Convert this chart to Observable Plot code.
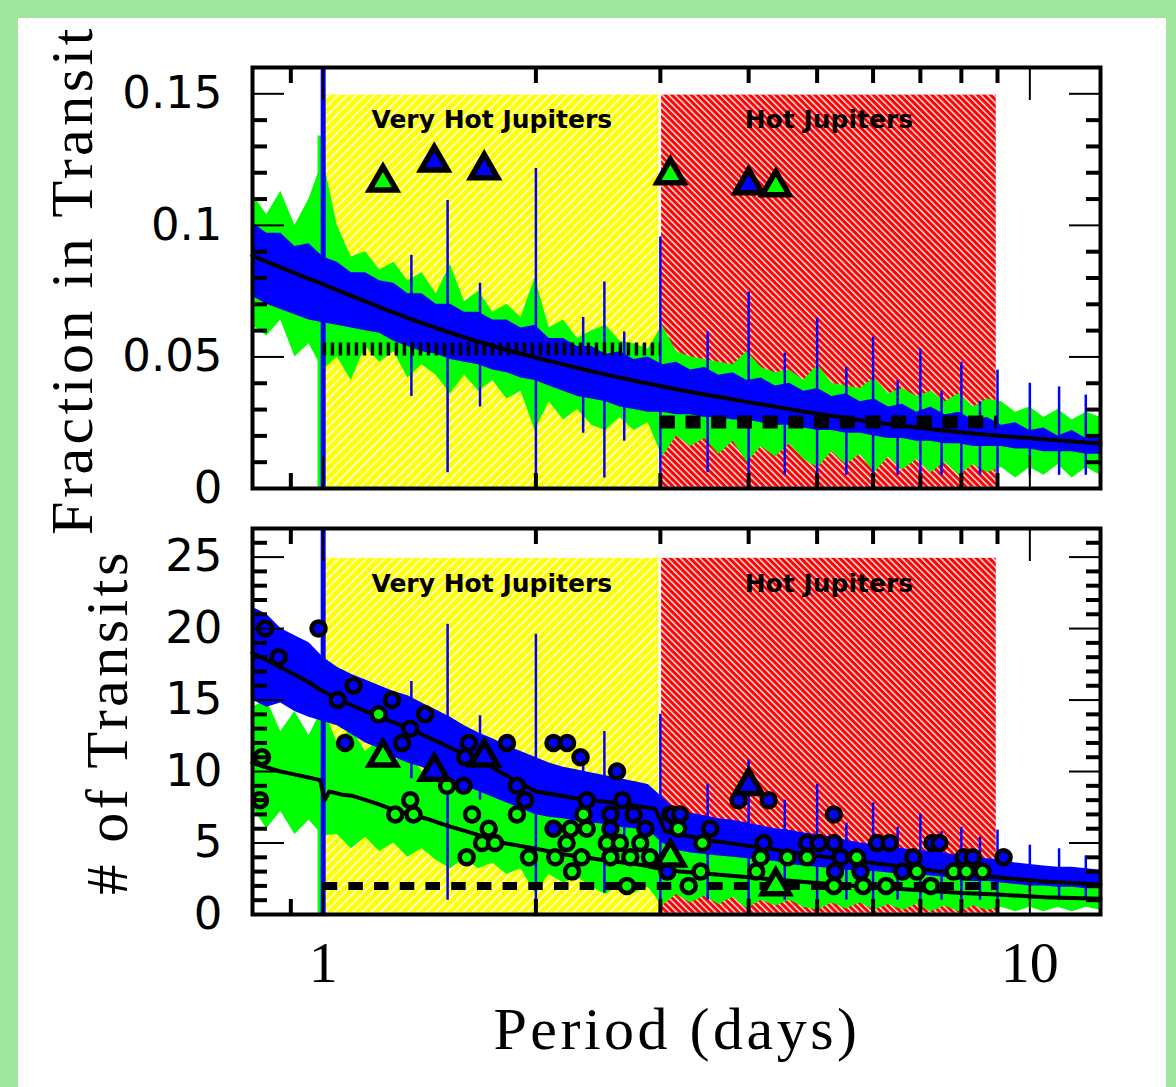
<!DOCTYPE html>
<html><head><meta charset="utf-8">
<script src="https://cdn.jsdelivr.net/npm/d3@7"></script>
<script src="https://cdn.jsdelivr.net/npm/@observablehq/plot@0.6"></script>
<style>
body{margin:0;background:#fff}
#fig{position:relative;width:1176px;height:1087px;background:#a0e6a0;overflow:hidden}
#inner{position:absolute;left:18px;top:18px;width:1148px;height:1069px;background:#fff}
.ttl{position:absolute;font-family:"Liberation Serif",serif;font-size:60px;letter-spacing:3.5px;white-space:nowrap;color:#000;line-height:60px;transform:translate(-50%,-50%)}
.rot{transform:translate(-50%,-50%) rotate(-90deg)}
</style></head><body>
<svg width="0" height="0" style="position:absolute"><defs>
<pattern id="hatchYellow" patternUnits="userSpaceOnUse" width="6.5" height="6.5" patternTransform="rotate(45)"><rect width="6.5" height="6.5" fill="#ffff00"/><line x1="0.8" y1="0" x2="0.8" y2="6.5" stroke="#ffffff" stroke-width="1.5"/></pattern>
<pattern id="hatchRed" patternUnits="userSpaceOnUse" width="4.6" height="4.6" patternTransform="rotate(-45)"><rect width="4.6" height="4.6" fill="#ff0000"/><line x1="0.8" y1="0" x2="0.8" y2="4.6" stroke="#ffffff" stroke-width="1.4"/></pattern>
</defs></svg>
<div id="fig">
<div id="inner"></div>
<div id="top" style="position:absolute;left:0;top:0;width:1176px"></div>
<div id="bot" style="position:absolute;left:0;top:510px;width:1176px"></div>
<div class="ttl rot" style="left:72px;top:280px">Fraction in Transit</div>
<div class="ttl rot" style="left:107px;top:722px"># of Transits</div>
<div class="ttl" style="left:677px;top:1029px">Period (days)</div>
</div>
<script>
// ---------- data ----------
const gridP = [0.794,0.832,0.871,0.912,0.955,1.000,1.047,1.096,1.148,1.202,
  1.259,1.318,1.380,1.445,1.514,1.585,1.660,1.738,1.820,1.905,
  1.995,2.089,2.188,2.291,2.399,2.512,2.630,2.754,2.884,3.020,
  3.162,3.311,3.467,3.631,3.802,3.981,4.169,4.365,4.571,4.786,
  5.012,5.248,5.495,5.754,6.026,6.310,6.607,6.918,7.244,7.586,
  7.943,8.318,8.710,9.120,9.550,10.00,10.47,10.96,11.48,12.02,
  12.59];

// Top panel: fraction in transit
const topGreenHi = [0.112,0.104,0.113,0.100,0.110,0.125,0.100,0.088,0.090,0.083,
  0.086,0.079,0.082,0.074,0.085,0.071,0.075,0.067,0.070,0.065,
  0.080,0.061,0.064,0.057,0.060,0.062,0.056,0.055,0.053,0.062,
  0.052,0.050,0.049,0.048,0.047,0.052,0.046,0.044,0.045,0.041,
  0.047,0.040,0.039,0.038,0.042,0.036,0.038,0.035,0.037,0.033,
  0.036,0.031,0.034,0.033,0.029,0.031,0.027,0.030,0.026,0.029,
  0.027];
const topGreenLo = [0.062,0.058,0.064,0.050,0.055,0.045,0.050,0.041,0.054,0.048,
  0.052,0.042,0.047,0.043,0.036,0.043,0.037,0.041,0.034,0.037,
  0.022,0.033,0.026,0.030,0.024,0.022,0.027,0.022,0.025,0.012,
  0.020,0.016,0.019,0.013,0.018,0.010,0.016,0.012,0.017,0.011,
  0.008,0.014,0.009,0.013,0.006,0.012,0.007,0.011,0.006,0.010,
  0.005,0.009,0.006,0.008,0.004,0.008,0.005,0.009,0.004,0.008,
  0.005];
const topBlueHi = [0.101,0.097,0.097,0.092,0.093,0.088,0.086,0.082,0.082,0.079,
  0.078,0.074,0.074,0.070,0.070,0.067,0.067,0.064,0.064,0.061,
  0.062,0.057,0.057,0.054,0.054,0.051,0.052,0.049,0.050,0.047,
  0.048,0.045,0.046,0.043,0.044,0.041,0.042,0.039,0.040,0.037,
  0.038,0.035,0.036,0.033,0.034,0.031,0.032,0.029,0.031,0.028,
  0.029,0.026,0.027,0.024,0.025,0.022,0.023,0.020,0.022,0.019,
  0.020];
const topBlueLo = [0.073,0.070,0.068,0.066,0.064,0.063,0.062,0.061,0.060,0.059,
  0.056,0.054,0.052,0.051,0.049,0.048,0.047,0.045,0.044,0.042,
  0.041,0.039,0.037,0.035,0.034,0.033,0.031,0.030,0.029,0.029,
  0.028,0.028,0.027,0.027,0.026,0.026,0.025,0.024,0.024,0.023,
  0.022,0.022,0.021,0.021,0.020,0.019,0.019,0.018,0.018,0.017,
  0.017,0.016,0.016,0.016,0.015,0.015,0.014,0.014,0.014,0.013,
  0.013];
const topMeanP = [0.794,0.879,0.98,1.092,1.217,1.357,1.513,1.686,1.88,2.03,2.4,2.81,3.3,3.9,5.0,6.49,8.08,10.0,12.59];
const topMean  = [0.0885,0.0836,0.0785,0.0734,0.0684,0.0636,0.0592,0.0552,0.0516,0.0493,0.0445,0.0405,0.0368,0.0333,0.0284,0.0240,0.0212,0.0191,0.0171];

// spikes at commensurate periods (shared periods)
const spikeP     = [1.0,1.333,1.5,1.667,2.0,2.333,2.5,2.667,3.0,3.5,4.0,4.5,5.0,5.5,6.0,6.5,7.0,7.5,8.0,8.5,9.0,10,11,12];
const topSpikeLo = [0,0.035,0.006,0.031,0.005,0.021,0.004,0.018,0.005,0.006,0.004,0.005,0.004,0.005,0.004,0.005,0.003,0.005,0.003,0.005,0.003,0.005,0.005,0.005];
const topSpikeHi = [0.16,0.0886,0.1095,0.078,0.1216,0.065,0.0785,0.0595,0.0956,0.0595,0.0747,0.0514,0.0647,0.046,0.0576,0.041,0.053,0.037,0.048,0.033,0.045,0.040,0.0386,0.0355];
const botSpikeLo = [0,9.5,1,8.0,0.5,6.0,1.5,5.5,0.5,1,0.5,1,0.5,1,0.5,1,0.5,1,0.5,1,0.5,1,1,1];
const botSpikeHi = [27,16.3,20.3,13.9,19.6,10.4,12.8,9.4,14.0,9.1,10.8,8.0,9.1,6.4,7.8,6.1,7.0,5.8,6.1,5.4,5.9,4.85,4.6,4.1];
const greenSpikeP = [0.99];
const topGreenSpikeHi = [0.134];
const botGreenSpikeHi = [16.2];

// Bottom panel: number of transits
const botBlueHi = [21.5,21.0,20.0,19.5,19.0,18.0,17.3,16.8,16.4,16.0,
  15.6,15.3,14.8,14.3,13.8,13.2,12.7,12.3,11.8,11.4,
  11.0,10.6,10.3,10.1,9.9,9.7,9.5,9.3,9.1,8.2,
  7.3,7.1,6.9,6.7,6.6,6.4,6.2,6.0,5.9,5.7,
  5.6,5.4,5.2,5.0,4.9,4.7,4.6,4.5,4.4,4.3,
  4.1,4.0,3.9,3.8,3.6,3.5,3.4,3.3,3.3,3.2,
  3.1];
const botBlueLo = [15.0,14.5,14.8,14.2,13.8,13.5,13.2,12.6,12.0,11.6,
  11.0,10.6,10.3,9.8,9.4,9.0,8.6,8.2,7.8,7.4,
  7.0,6.8,6.7,6.5,6.4,6.3,6.1,6.0,5.9,5.0,
  4.5,4.3,4.2,4.1,4.0,3.9,3.8,3.7,3.5,3.4,
  3.3,3.2,3.1,3.0,3.0,2.9,2.8,2.8,2.7,2.6,
  2.4,2.3,2.3,2.2,2.1,2.0,2.0,1.9,1.9,1.8,
  1.8];
const botGreenHi = [14.5,15.0,12.8,14.2,12.5,14.5,12.0,13.0,11.4,12.2,
  10.6,11.5,10.0,10.6,9.6,10.2,8.9,9.4,8.3,8.8,
  9.0,7.8,7.2,7.6,6.8,7.6,6.6,6.9,6.2,7.0,
  5.6,6.0,5.3,5.7,5.0,5.8,4.6,4.9,4.3,4.6,
  4.6,4.0,4.3,3.7,4.1,3.5,3.8,3.3,3.6,3.2,
  3.4,3.0,3.2,2.9,2.7,2.9,2.5,2.8,2.4,2.7,
  2.4];
const botGreenLo = [7.5,6.0,7.2,5.6,6.6,5.5,5.6,4.6,5.4,4.4,
  5.0,4.0,4.6,3.8,3.2,3.9,3.2,3.6,2.8,3.2,
  1.5,2.8,2.2,2.6,1.9,1.4,2.1,1.5,1.9,0.6,
  1.4,0.8,1.3,0.7,1.2,0.4,1.0,0.6,1.0,0.5,
  0.3,0.8,0.4,0.8,0.3,0.7,0.3,0.7,0.2,0.6,
  0.2,0.6,0.3,0.5,0.2,0.5,0.2,0.5,0.2,0.5,
  0.3];
const botBlueMeanP = [0.794,0.87,0.95,1.0,1.1,1.2,1.31,1.45,1.6,1.72,1.85,2.0,2.3,2.6,2.95,3.05,3.5,4.0,5.0,6.0,7.5,9.0,10.5,12.59];
const botBlueMean  = [18.3,17.3,16.3,15.6,14.6,13.8,13.1,12.1,11.1,10.4,9.5,8.6,8.1,7.8,7.4,5.8,5.2,4.8,4.1,3.6,3.0,2.6,2.3,2.1];
const botGreenMeanP = [0.794,0.83,0.87,0.91,0.95,0.99,1.005,1.02,1.06,1.1,1.15,1.2,1.26,1.33,1.4,1.5,1.6,1.7,1.8,2.0,2.2,2.5,2.8,3.0,3.2,3.6,4.0,5.0,6.0,7.0,8.0,9.0,10.5,12.59];
const botGreenMean  = [10.6,10.3,10.0,9.8,9.6,9.4,8.0,8.6,8.4,8.3,8.0,7.7,7.3,7.0,6.7,6.2,5.8,5.4,5.0,4.6,4.2,3.8,3.5,3.2,3.0,2.8,2.6,2.2,1.9,1.7,1.5,1.4,1.2,1.1];

// Observed planets (bottom panel circles)
const blueCircleP = [0.828,0.985,0.865,1.104,1.048,1.251,1.394,1.328,1.074,1.293,1.607,1.82,1.588,1.58,1.88,1.93,2.118,2.214,2.313,2.605,2.36,2.65,2.55,2.75,2.118,2.55,2.857,3.53,3.87,4.27,4.2,4.84,5.03,5.28,5.28,3.12,3.2,6.08,6.33,7.28,7.45,9.18,8.06,8.3,6.84,5.4,5.76,6.6,5.3,3.07];
const blueCircleN = [20,20,18,16,15,15,14,13,12,12,12,12,11,9,9,8,12,12,11,10,8,8,7,7,6,6,6,6,8,8,5,5,5,5,7,7,7,5,5,5,5,4,4,4,4,4,3,3,3,3];
const greenCircleP = [0.819,0.814,1.198,1.328,1.265,1.342,1.497,1.624,1.715,1.678,1.75,1.596,1.88,1.955,2.335,2.24,2.36,2.21,2.52,2.63,2.81,3.44,2.13,2.32,2.55,2.72,2.9,2.25,3.42,2.69,3.29,3.18,3.1,4.16,4.54,4.1,4.84,5.69,6.92,7.8,8.13,8.57,5.28,5.81,6.26,7.24];
const greenCircleN = [11,8,14,8,7,7,9,7,6,5,5,4,7,4,7,6,6,5,5,5,5,5,4,4,4,4,4,3,3,2,2,6,7,4,4,3,4,4,3,3,3,3,2,2,2,2];

// Known transiting planets (triangles)
const triBlueP = [1.436,1.69,4.0];
const triBlueFrac = [0.124,0.1211,0.1154];
const triBlueN = [10,11,9];
const triGreenP = [1.215,3.10,4.37];
const triGreenFrac = [0.1164,0.1192,0.1146];
const triGreenN = [11,4,2];

// Regions
const regionNames = ["Very Hot Jupiters","Hot Jupiters"];
const regionStart = [1,3];
const regionEnd = [3,9];
const regionTopFrac = [0.15,0.15];
const regionTopN = [25,25];
const regionLabelP = [1.732,5.196];
const regionLabelFrac = [0.14,0.14];
const regionLabelN = [23.1,23.1];

// Threshold levels
const topDottedLevel = [{p1:1, p2:3, v:0.053}];
const topSquareLevel = [{p1:3, p2:9, v:0.0253}];
const botDashedLevel = [{p1:1, p2:9, v:2}];

// Ticks
const topMajor = [0,0.05,0.1,0.15];
const topLabels = ["0","0.05","0.1","0.15"];
const topMinor = [0.01,0.02,0.03,0.04,0.06,0.07,0.08,0.09,0.11,0.12,0.13,0.14];
const botMajor = [0,5,10,15,20,25];
const botLabels = ["0","5","10","15","20","25"];
const botMinor = [1,2,3,4,6,7,8,9,11,12,13,14,16,17,18,19,21,22,23,24,26];
const xMajor = [1,10];
const xLabels = ["1","10"];
const xMinor = [0.9,2,3,4,5,6,7,8,9];

// ---------- tables ----------
const band = (lo, hi) => gridP.map((p, i) => ({p, lo: lo[i], hi: hi[i]}));
const pts = (ps, vs) => ps.map((p, i) => ({p, v: vs[i]}));
const spikes = (lo, hi) => spikeP.map((p, i) => ({p, lo: lo[i], hi: hi[i]}));
const regions = regionNames.map((name, i) => ({name, p1: regionStart[i], p2: regionEnd[i],
  frac: regionTopFrac[i], n: regionTopN[i], lp: regionLabelP[i], lf: regionLabelFrac[i], ln: regionLabelN[i]}));
const topLabelMap = new Map(topMajor.map((d, i) => [d, topLabels[i]]));
const botLabelMap = new Map(botMajor.map((d, i) => [d, botLabels[i]]));
const xLabelMap = new Map(xMajor.map((d, i) => [d, xLabels[i]]));

const BLUE = "#0000ff", GREEN = "#00ff00";
const xScale = {type: "log", domain: [0.7943, 12.589]};

function tickMarks(yMajor, yMinor) {
  const t = (fn, data, anchor, size, w) => fn(data, {anchor, tickSize: size, strokeWidth: w, stroke: "black", fill: "none", label: null});
  return [
    t(Plot.axisY, yMajor, "left", -32, 2),
    t(Plot.axisY, yMajor, "right", -32, 2),
    t(Plot.axisY, yMinor, "left", -15, 4),
    t(Plot.axisY, yMinor, "right", -15, 4),
    t(Plot.axisX, xMajor, "top", -32, 2),
    t(Plot.axisX, xMajor, "bottom", -32, 2),
    t(Plot.axisX, xMinor, "top", -15, 4),
    t(Plot.axisX, xMinor, "bottom", -15, 4),
    Plot.frame({stroke: "black", strokeWidth: 4})
  ];
}

const triStyle = {symbol: "triangle", r: 10, stroke: "black", strokeWidth: 5.5, strokeLinejoin: "miter"};
const circStyle = {r: 7, stroke: "black", strokeWidth: 4.5};

const topChart = Plot.plot({
  width: 1176, height: 510,
  marginLeft: 252, marginRight: 76, marginTop: 67, marginBottom: 22,
  x: xScale,
  y: {domain: [0, 0.16]},
  style: {background: "transparent", color: "black", overflow: "visible"},
  marks: [
    Plot.rect([regions[0]], {x1: "p1", x2: "p2", y1: 0, y2: "frac", fill: "url(#hatchYellow)", stroke: "white", strokeWidth: 2.5}),
    Plot.rect([regions[1]], {x1: "p1", x2: "p2", y1: 0, y2: "frac", fill: "url(#hatchRed)", stroke: "white", strokeWidth: 2.5}),
    Plot.areaY(band(topGreenLo, topGreenHi), {x: "p", y1: "lo", y2: "hi", fill: GREEN}),
    Plot.ruleX(pts(greenSpikeP, topGreenSpikeHi), {x: "p", y1: 0, y2: "v", stroke: GREEN, strokeWidth: 5}),
    Plot.areaY(band(topBlueLo, topBlueHi), {x: "p", y1: "lo", y2: "hi", fill: BLUE}),
    Plot.ruleX(spikes(topSpikeLo, topSpikeHi), {x: "p", y1: "lo", y2: "hi", stroke: BLUE, strokeWidth: 2.5}),
    Plot.ruleX(spikes(topSpikeLo, topSpikeHi).slice(0, 1), {x: "p", y1: "lo", y2: "hi", stroke: BLUE, strokeWidth: 5}),
    Plot.line(pts(topMeanP, topMean), {x: "p", y: "v", stroke: "black", strokeWidth: 4, curve: "monotone-x"}),
    Plot.ruleY(topDottedLevel, {y: "v", x1: "p1", x2: "p2", stroke: "black", strokeWidth: 13, strokeDasharray: "3.5,4.5"}),
    Plot.ruleY(topSquareLevel, {y: "v", x1: "p1", x2: "p2", stroke: "black", strokeWidth: 13, strokeDasharray: "15,10.7"}),
    Plot.dot(pts(triGreenP, triGreenFrac), {x: "p", y: "v", fill: GREEN, ...triStyle}),
    Plot.dot(pts(triBlueP, triBlueFrac), {x: "p", y: "v", fill: BLUE, ...triStyle}),
    Plot.text(regions, {x: "lp", y: "lf", text: "name", fontSize: 25, fontWeight: "bold", fontFamily: "DejaVu Sans", fill: "black"}),
    ...tickMarks(topMajor, topMinor),
    Plot.axisY(topMajor, {anchor: "left", tickSize: 0, tickPadding: 30, fontSize: 45, fontFamily: "DejaVu Sans", tickFormat: d => topLabelMap.get(d), label: null})
  ]
});
document.getElementById("top").appendChild(topChart);

const botChart = Plot.plot({
  width: 1176, height: 577,
  marginLeft: 252, marginRight: 76, marginTop: 18, marginBottom: 173,
  x: xScale,
  y: {domain: [0, 27]},
  style: {background: "transparent", color: "black", overflow: "visible"},
  marks: [
    Plot.rect([regions[0]], {x1: "p1", x2: "p2", y1: 0, y2: "n", fill: "url(#hatchYellow)", stroke: "white", strokeWidth: 2.5}),
    Plot.rect([regions[1]], {x1: "p1", x2: "p2", y1: 0, y2: "n", fill: "url(#hatchRed)", stroke: "white", strokeWidth: 2.5}),
    Plot.areaY(band(botGreenLo, botGreenHi), {x: "p", y1: "lo", y2: "hi", fill: GREEN}),
    Plot.ruleX(pts(greenSpikeP, botGreenSpikeHi), {x: "p", y1: 0, y2: "v", stroke: GREEN, strokeWidth: 5}),
    Plot.areaY(band(botBlueLo, botBlueHi), {x: "p", y1: "lo", y2: "hi", fill: BLUE}),
    Plot.ruleX(spikes(botSpikeLo, botSpikeHi), {x: "p", y1: "lo", y2: "hi", stroke: BLUE, strokeWidth: 2.5}),
    Plot.ruleX(spikes(botSpikeLo, botSpikeHi).slice(0, 1), {x: "p", y1: "lo", y2: "hi", stroke: BLUE, strokeWidth: 5}),
    Plot.line(pts(botBlueMeanP, botBlueMean), {x: "p", y: "v", stroke: "black", strokeWidth: 4}),
    Plot.line(pts(botGreenMeanP, botGreenMean), {x: "p", y: "v", stroke: "black", strokeWidth: 4}),
    Plot.ruleY(botDashedLevel, {y: "v", x1: "p1", x2: "p2", stroke: "black", strokeWidth: 8, strokeDasharray: "14.5,11.2"}),
    Plot.dot(pts(greenCircleP, greenCircleN), {x: "p", y: "v", fill: GREEN, ...circStyle}),
    Plot.dot(pts(blueCircleP, blueCircleN), {x: "p", y: "v", fill: BLUE, ...circStyle}),
    Plot.dot(pts(triGreenP, triGreenN), {x: "p", y: "v", fill: GREEN, ...triStyle}),
    Plot.dot(pts(triBlueP, triBlueN), {x: "p", y: "v", fill: BLUE, ...triStyle}),
    Plot.text(regions, {x: "lp", y: "ln", text: "name", fontSize: 25, fontWeight: "bold", fontFamily: "DejaVu Sans", fill: "black"}),
    ...tickMarks(botMajor, botMinor),
    Plot.axisY(botMajor, {anchor: "left", tickSize: 0, tickPadding: 30, fontSize: 45, fontFamily: "DejaVu Sans", tickFormat: d => botLabelMap.get(d), label: null}),
    Plot.axisX(xMajor, {anchor: "bottom", tickSize: 0, tickPadding: 26, fontSize: 58, fontFamily: "Liberation Serif", tickFormat: d => xLabelMap.get(d), label: null})
  ]
});
document.getElementById("bot").appendChild(botChart);
</script>
</body></html>
